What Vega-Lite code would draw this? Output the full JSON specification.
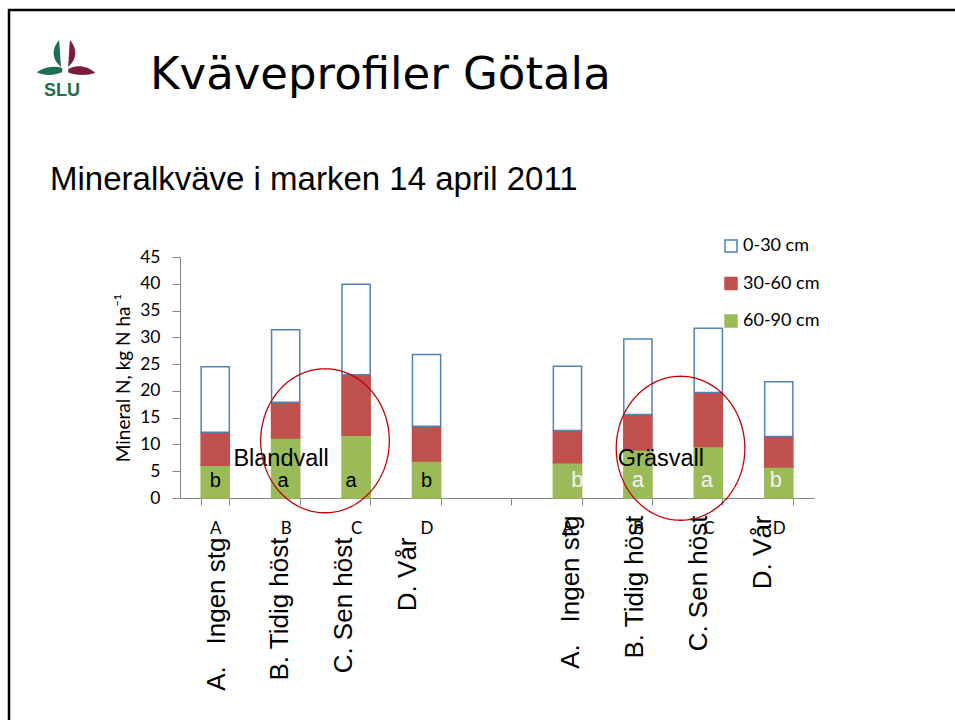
{
  "$schema": "https://vega.github.io/schema/vega-lite/v6.json",
  "width": 634,
  "height": 241,
  "autosize": {"type": "none"},
  "padding": {"left": 180, "top": 257, "right": 141, "bottom": 222},
  "background": "white",
  "config": {
    "view": {"stroke": null},
    "font": "Lato",
    "legend": {"strokeWidth": 2.5},
    "axisY": {
      "grid": false, "domainColor": "#868686", "tickColor": "#868686", "tickSize": 8, "labelPadding": 12,
      "labelFont": "Lato", "labelFontSize": 17.5, "labelColor": "#000000",
      "titleFont": "Lato", "titleFontSize": 19, "titleFontWeight": "normal", "titleColor": "#000000",
      "titleAngle": 270, "titleX": -51, "titleY": 120.5, "titleAlign": "center", "titleBaseline": "alphabetic"
    }
  },
  "layer": [
    {
      "data": {"values": [
        {"cat": "A1", "group": "Blandvall", "depth": "60-90 cm", "value": 6.1},
        {"cat": "A1", "group": "Blandvall", "depth": "30-60 cm", "value": 6.2},
        {"cat": "A1", "group": "Blandvall", "depth": "0-30 cm", "value": 12.2},
        {"cat": "B1", "group": "Blandvall", "depth": "60-90 cm", "value": 11.2},
        {"cat": "B1", "group": "Blandvall", "depth": "30-60 cm", "value": 6.7},
        {"cat": "B1", "group": "Blandvall", "depth": "0-30 cm", "value": 13.5},
        {"cat": "C1", "group": "Blandvall", "depth": "60-90 cm", "value": 11.7},
        {"cat": "C1", "group": "Blandvall", "depth": "30-60 cm", "value": 11.3},
        {"cat": "C1", "group": "Blandvall", "depth": "0-30 cm", "value": 16.9},
        {"cat": "D1", "group": "Blandvall", "depth": "60-90 cm", "value": 6.9},
        {"cat": "D1", "group": "Blandvall", "depth": "30-60 cm", "value": 6.5},
        {"cat": "D1", "group": "Blandvall", "depth": "0-30 cm", "value": 13.4},
        {"cat": "A2", "group": "Gräsvall", "depth": "60-90 cm", "value": 6.6},
        {"cat": "A2", "group": "Gräsvall", "depth": "30-60 cm", "value": 6.0},
        {"cat": "A2", "group": "Gräsvall", "depth": "0-30 cm", "value": 12.0},
        {"cat": "B2", "group": "Gräsvall", "depth": "60-90 cm", "value": 9.0},
        {"cat": "B2", "group": "Gräsvall", "depth": "30-60 cm", "value": 6.6},
        {"cat": "B2", "group": "Gräsvall", "depth": "0-30 cm", "value": 14.1},
        {"cat": "C2", "group": "Gräsvall", "depth": "60-90 cm", "value": 9.6},
        {"cat": "C2", "group": "Gräsvall", "depth": "30-60 cm", "value": 10.1},
        {"cat": "C2", "group": "Gräsvall", "depth": "0-30 cm", "value": 12.0},
        {"cat": "D2", "group": "Gräsvall", "depth": "60-90 cm", "value": 5.8},
        {"cat": "D2", "group": "Gräsvall", "depth": "30-60 cm", "value": 5.7},
        {"cat": "D2", "group": "Gräsvall", "depth": "0-30 cm", "value": 10.2}
      ]},
      "mark": {"type": "bar", "strokeWidth": 1.5},
      "encoding": {
        "x": {
          "field": "cat", "type": "nominal",
          "scale": {"type": "band", "domain": ["A1","B1","C1","D1","gap","A2","B2","C2","D2"], "paddingInner": 0.6, "paddingOuter": 0.3},
          "axis": {
            "orient": "bottom", "title": null, "grid": false,
            "labelExpr": "indexof(['A1','B1','C1','D1','A2','B2','C2','D2'], datum.value) >= 0 ? substring(datum.value, 0, 1) : ''",
            "labelAngle": 0, "tickBand": "extent",
            "domainColor": "#868686", "tickColor": "#868686", "tickSize": 7,
            "labelPadding": 15, "labelFont": "Lato", "labelFontSize": 17, "labelColor": "#000000", "labelBaseline": "top"
          }
        },
        "y": {
          "field": "value", "type": "quantitative", "stack": "zero",
          "scale": {"domain": [0, 45], "nice": false},
          "axis": {"title": "Mineral N, kg N ha⁻¹", "values": [0,5,10,15,20,25,30,35,40,45]}
        },
        "fill": {
          "field": "depth", "type": "nominal",
          "scale": {"domain": ["0-30 cm", "30-60 cm", "60-90 cm"], "range": ["#FFFFFF", "#C0504D", "#9BBB59"]},
          "legend": {"title": null, "orient": "none", "legendX": 542, "legendY": -20, "padding": 0, "symbolType": "square", "symbolSize": 144, "symbolStrokeWidth": 1.5, "labelFont": "Lato", "labelFontSize": 18, "labelColor": "#000000", "labelOffset": 3, "rowPadding": 19.5}
        },
        "stroke": {
          "field": "depth", "type": "nominal",
          "scale": {"domain": ["0-30 cm", "30-60 cm", "60-90 cm"], "range": ["#4F81BD", "#C0504D", "#9BBB59"]},
          "legend": {"title": null, "orient": "none", "legendX": 542, "legendY": -20, "padding": 0, "symbolType": "square", "symbolSize": 144, "symbolStrokeWidth": 1.5, "labelFont": "Lato", "labelFontSize": 18, "labelColor": "#000000", "labelOffset": 3, "rowPadding": 19.5}
        },
        "order": {"field": "depth", "sort": "descending"}
      }
    },
    {
      "data": {"values": [
        {"cat": "A1", "group": "Blandvall", "sig": "b"},
        {"cat": "B1", "group": "Blandvall", "sig": "a"},
        {"cat": "C1", "group": "Blandvall", "sig": "a"},
        {"cat": "D1", "group": "Blandvall", "sig": "b"},
        {"cat": "A2", "group": "Gräsvall", "sig": "b"},
        {"cat": "B2", "group": "Gräsvall", "sig": "a"},
        {"cat": "C2", "group": "Gräsvall", "sig": "a"},
        {"cat": "D2", "group": "Gräsvall", "sig": "b"}
      ]},
      "mark": {"type": "text", "font": "Liberation Sans", "baseline": "alphabetic", "align": "center",
        "dx": {"expr": "datum.cat == 'A2' ? 10 : datum.cat == 'D2' ? -3 : datum.cat == 'C1' ? -5 : datum.cat == 'B1' ? -2.5 : datum.cat == 'C2' ? -1.5 : 0"}},
      "encoding": {
        "x": {
          "field": "cat", "type": "nominal",
          "scale": {"type": "band", "domain": ["A1","B1","C1","D1","gap","A2","B2","C2","D2"], "paddingInner": 0.6, "paddingOuter": 0.3},
          "axis": {
            "orient": "bottom", "title": null, "domain": false, "ticks": false, "tickSize": 0, "grid": false,
            "labelExpr": "substring(datum.value,0,1) == 'A' ? 'A.\u00a0\u00a0\u00a0Ingen stg' : substring(datum.value,0,1) == 'B' ? 'B. Tidig höst' : substring(datum.value,0,1) == 'C' ? 'C. Sen höst' : substring(datum.value,0,1) == 'D' ? 'D. Vår' : ''",
            "labelAngle": 270, "labelAlign": "right", "labelBaseline": "middle",
            "labelFont": "Liberation Sans", "labelFontSize": 26, "labelColor": "#000000", "labelLimit": 400,
            "labelPadding": {"condition": {"test": "indexof(['A2','B2','C2','D2'], datum.value) >= 0", "value": 17}, "value": 39},
            "labelOffset": {"condition": [
              {"test": "datum.value == 'A1'", "value": 2},
              {"test": "datum.value == 'B1'", "value": -5.5},
              {"test": "datum.value == 'C1'", "value": -12},
              {"test": "datum.value == 'D1'", "value": -18.5},
              {"test": "datum.value == 'A2'", "value": 4},
              {"test": "datum.value == 'B2'", "value": -2.5},
              {"test": "datum.value == 'C2'", "value": -9},
              {"test": "datum.value == 'D2'", "value": -15.5}
            ], "value": 0}
          }
        },
        "y": {"datum": 2, "type": "quantitative", "scale": {"domain": [0, 45], "nice": false}, "axis": {"title": "Mineral N, kg N ha⁻¹", "values": [0,5,10,15,20,25,30,35,40,45]}},
        "text": {"field": "sig"},
        "color": {"condition": {"test": "datum.group == 'Gräsvall'", "value": "#F2F2F2"}, "value": "#000000"},
        "size": {"condition": {"test": "datum.group == 'Gräsvall'", "value": 22}, "value": 20}
      }
    },
    {
      "data": {"values": [
        {"cat": "B1", "label": "Blandvall"},
        {"cat": "B2", "label": "Gräsvall"}
      ]},
      "mark": {"type": "text", "font": "Liberation Sans", "fontSize": 23.5, "color": "#000000", "align": "center", "baseline": "alphabetic", "dx": {"expr": "datum.label == 'Blandvall' ? -4.6 : 23"}},
      "encoding": {
        "x": {"field": "cat", "type": "nominal", "scale": {"type": "band", "domain": ["A1","B1","C1","D1","gap","A2","B2","C2","D2"], "paddingInner": 0.6, "paddingOuter": 0.3}, "axis": null},
        "y": {"datum": 6.03, "type": "quantitative", "scale": {"domain": [0, 45], "nice": false}, "axis": {"title": "Mineral N, kg N ha⁻¹", "values": [0,5,10,15,20,25,30,35,40,45]}},
        "text": {"field": "label"}
      }
    },
    {
      "data": {"values": [{"cat": "C1"}, {"cat": "C2"}]},
      "mark": {"type": "point", "filled": false, "color": "#C00000", "strokeWidth": 1.3, "size": 20736, "opacity": 1},
      "encoding": {
        "x": {"field": "cat", "type": "nominal", "scale": {"type": "band", "domain": ["A1","B1","C1","D1","gap","A2","B2","C2","D2"], "paddingInner": 0.6, "paddingOuter": 0.3}, "axis": null},
        "y": {"datum": 10, "type": "quantitative", "scale": {"domain": [0, 45], "nice": false}, "axis": {"title": "Mineral N, kg N ha⁻¹", "values": [0,5,10,15,20,25,30,35,40,45]}},
        "shape": {
          "condition": {"test": "datum.cat == 'C2'", "value": "M -0.386,-0.947 C 0.1072,-0.947 0.507,-0.4993 0.507,0.053 C 0.507,0.6053 0.1072,1.053 -0.386,1.053 C -0.8792,1.053 -1.279,0.6053 -1.279,0.053 C -1.279,-0.4993 -0.8792,-0.947 -0.386,-0.947 Z"},
          "value": "M -0.432,-1.051 C 0.0612,-1.051 0.461,-0.6033 0.461,-0.051 C 0.461,0.5013 0.0612,0.949 -0.432,0.949 C -0.9252,0.949 -1.325,0.5013 -1.325,-0.051 C -1.325,-0.6033 -0.9252,-1.051 -0.432,-1.051 Z"
        },
        "strokeDash": {
          "field": "cat", "type": "nominal",
          "scale": {"range": [[1, 0], [1, 0]]},
          "legend": {"title": null, "orient": "none", "legendX": -171, "legendY": -247, "padding": 1500, "strokeColor": "#000000", "labelExpr": "''", "symbolOpacity": 0}
        }
      }
    },
    {
      "data": {"values": [{"part": "green"}, {"part": "maroon"}]},
      "mark": {"type": "point", "filled": true, "size": 4, "strokeWidth": 0, "opacity": 1},
      "encoding": {
        "x": {"datum": "A1", "type": "nominal", "scale": {"type": "band", "domain": ["A1","B1","C1","D1","gap","A2","B2","C2","D2"], "paddingInner": 0.6, "paddingOuter": 0.3}, "axis": null},
        "y": {"datum": 80, "type": "quantitative", "scale": {"domain": [0, 45], "nice": false}, "axis": {"title": "Mineral N, kg N ha⁻¹", "values": [0,5,10,15,20,25,30,35,40,45]}},
        "shape": {
          "condition": {"test": "datum.part == 'green'", "value": "M -156.2,-29.6 C -163.2,-21.6 -164.2,-10.6 -154.2,-2.6 C -155.2,-11.6 -155.2,-21.6 -156.2,-29.6 Z M -153,-1.5 C -160,-4 -170,-3 -178.5,2.7 C -170,6.5 -160,6 -153,2.5 Z"},
          "value": "M -145.2,-29.6 C -138.2,-21.6 -137.2,-10.6 -147.2,-2.6 C -146.2,-11.6 -146.2,-21.6 -145.2,-29.6 Z M -147,-0.5 C -140,-5 -128,-4.5 -120,3.3 C -128,6.5 -140,6 -147,3 Z"
        },
        "color": {"condition": {"test": "datum.part == 'green'", "value": "#1E6E50"}, "value": "#7A1E3C"}
      }
    },
    {
      "data": {"values": [{"t": "SLU"}]},
      "mark": {"type": "text", "font": "Liberation Sans", "fontSize": 18, "fontWeight": "bold", "color": "#1E6E50", "align": "center", "baseline": "alphabetic", "dx": -153.2, "dy": 26.4},
      "encoding": {
        "x": {"datum": "A1", "type": "nominal", "scale": {"type": "band", "domain": ["A1","B1","C1","D1","gap","A2","B2","C2","D2"], "paddingInner": 0.6, "paddingOuter": 0.3}, "axis": null},
        "y": {"datum": 80, "type": "quantitative", "scale": {"domain": [0, 45], "nice": false}, "axis": {"title": "Mineral N, kg N ha⁻¹", "values": [0,5,10,15,20,25,30,35,40,45]}},
        "text": {"field": "t"}
      }
    },
    {
      "data": {"values": [{"t": "Kväveprofiler Götala"}]},
      "mark": {"type": "text", "font": "DejaVu Sans", "fontSize": 45, "color": "#000000", "align": "left", "baseline": "alphabetic", "dx": -65.2, "dy": 19.7},
      "encoding": {
        "x": {"datum": "A1", "type": "nominal", "scale": {"type": "band", "domain": ["A1","B1","C1","D1","gap","A2","B2","C2","D2"], "paddingInner": 0.6, "paddingOuter": 0.3}, "axis": null},
        "y": {"datum": 80, "type": "quantitative", "scale": {"domain": [0, 45], "nice": false}, "axis": {"title": "Mineral N, kg N ha⁻¹", "values": [0,5,10,15,20,25,30,35,40,45]}},
        "text": {"field": "t"}
      }
    },
    {
      "data": {"values": [{"t": "Mineralkväve i marken 14 april 2011"}]},
      "mark": {"type": "text", "font": "Liberation Sans", "fontSize": 33, "color": "#000000", "align": "left", "baseline": "alphabetic", "dx": -165.2, "dy": 120.4},
      "encoding": {
        "x": {"datum": "A1", "type": "nominal", "scale": {"type": "band", "domain": ["A1","B1","C1","D1","gap","A2","B2","C2","D2"], "paddingInner": 0.6, "paddingOuter": 0.3}, "axis": null},
        "y": {"datum": 80, "type": "quantitative", "scale": {"domain": [0, 45], "nice": false}, "axis": {"title": "Mineral N, kg N ha⁻¹", "values": [0,5,10,15,20,25,30,35,40,45]}},
        "text": {"field": "t"}
      }
    }
  ],
  "resolve": {"axis": {"x": "independent"}}
}
